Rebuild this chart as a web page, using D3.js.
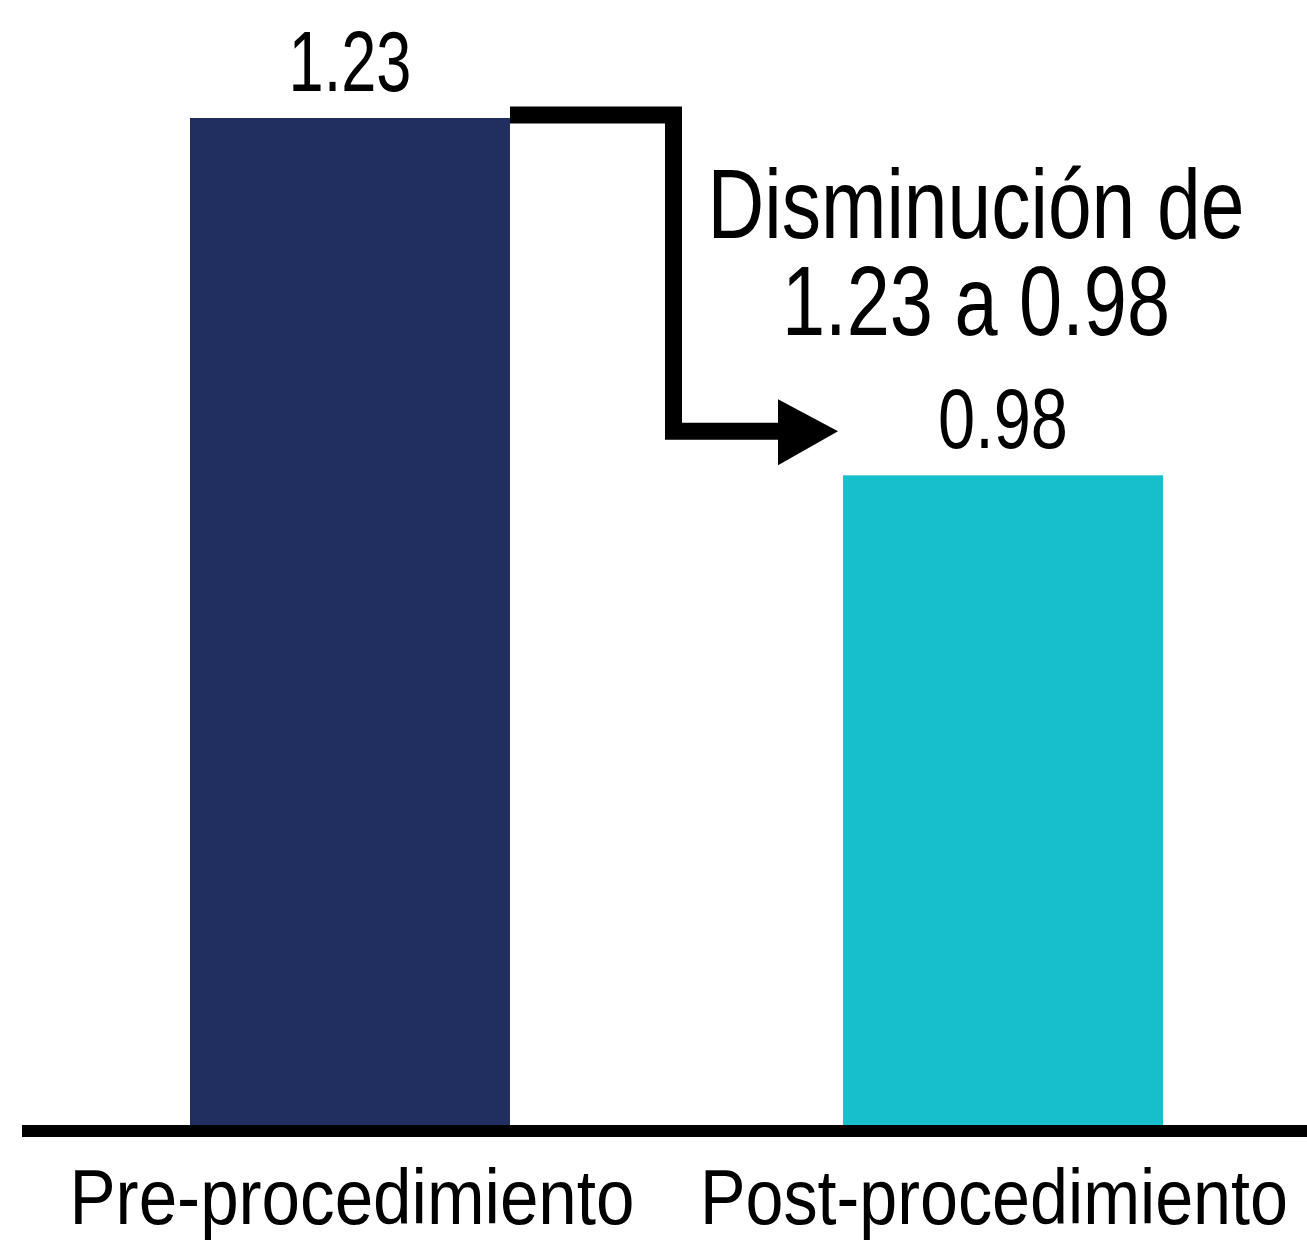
<!DOCTYPE html>
<html>
<head>
<meta charset="utf-8">
<script src="https://cdn.jsdelivr.net/npm/d3@7"></script>
<style>
  html, body { margin: 0; padding: 0; background: #ffffff; }
  svg { display: block; }
  text { font-family: "Liberation Sans Narrow", "Liberation Sans", Arial, sans-serif; fill: #000; }
</style>
</head>
<body>
<svg id="chart" width="1307" height="1244"></svg>
<script>
const categories = ["Pre-procedimiento", "Post-procedimiento"];
const values = [1.23, 0.98];
const valueLabels = ["1.23", "0.98"];
const barColors = ["#212e60", "#17bfcc"];
const annotationLines = ["Disminución de", "1.23 a 0.98"];

const svg = d3.select("#chart");

const x = d3.scaleBand().domain(categories).range([190, 1163]).paddingInner(0.51).paddingOuter(0);
const y = d3.scaleLinear().domain([0.522, 1.23]).range([1130, 118]);

// bars
svg.selectAll("rect.bar").data(values).enter().append("rect")
  .attr("class", "bar")
  .attr("x", (d, i) => x(categories[i]))
  .attr("y", d => y(d))
  .attr("width", x.bandwidth())
  .attr("height", d => y.range()[0] - y(d))
  .attr("fill", (d, i) => barColors[i]);

// baseline
svg.append("line")
  .attr("x1", 22).attr("x2", 1307)
  .attr("y1", y.range()[0] + 1).attr("y2", y.range()[0] + 1)
  .attr("stroke", "#000").attr("stroke-width", 12);

// value labels
const labelWidths = [123, 130];
svg.selectAll("text.val").data(values).enter().append("text")
  .attr("class", "val")
  .attr("x", (d, i) => x(categories[i]) + x.bandwidth() / 2)
  .attr("y", d => y(d) - 27)
  .attr("text-anchor", "middle")
  .attr("font-size", 86)
  .attr("textLength", (d, i) => labelWidths[i])
  .attr("lengthAdjust", "spacingAndGlyphs")
  .text((d, i) => valueLabels[i]);

// category labels
const catWidths = [565, 588];
const catCenters = [352, 994];
svg.selectAll("text.cat").data(categories).enter().append("text")
  .attr("class", "cat")
  .attr("x", (d, i) => catCenters[i])
  .attr("y", 1224)
  .attr("text-anchor", "middle")
  .attr("font-size", 78)
  .attr("textLength", (d, i) => catWidths[i])
  .attr("lengthAdjust", "spacingAndGlyphs")
  .text(d => d);

// arrow
const x0 = x(categories[0]) + x.bandwidth();
const xMid = (x0 + x(categories[1])) / 2 - 3;
const yTop = y(values[0]) - 3;
const yBot = y(values[1]) - 44;
const xTipBase = x(categories[1]) - 65;
svg.append("path")
  .attr("d", `M${x0},${yTop} H${xMid} V${yBot} H${xTipBase + 5}`)
  .attr("fill", "none")
  .attr("stroke", "#000")
  .attr("stroke-width", 17)
  .attr("stroke-linejoin", "miter");
svg.append("path")
  .attr("d", `M${xTipBase},${yBot - 32} L${x(categories[1]) - 5},${yBot} L${xTipBase},${yBot + 34} Z`)
  .attr("fill", "#000");

// annotation text
const annWidths = [537, 388];
const annBaselines = [238, 335];
svg.selectAll("text.ann").data(annotationLines).enter().append("text")
  .attr("class", "ann")
  .attr("x", 976)
  .attr("y", (d, i) => annBaselines[i])
  .attr("text-anchor", "middle")
  .attr("font-size", 98)
  .attr("textLength", (d, i) => annWidths[i])
  .attr("lengthAdjust", "spacingAndGlyphs")
  .text(d => d);
</script>
</body>
</html>
